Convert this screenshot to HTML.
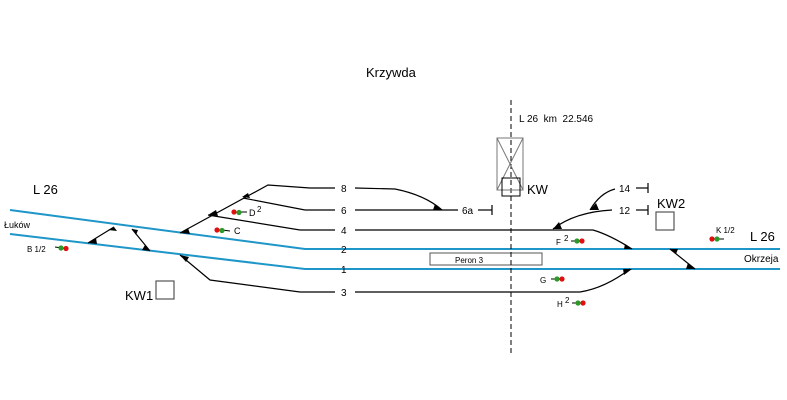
<!DOCTYPE html>
<html><head><style>body{margin:0;background:#fff}svg{display:block}</style></head>
<body>
<svg width="787" height="400" viewBox="0 0 787 400" xmlns="http://www.w3.org/2000/svg" font-family="Liberation Sans, sans-serif">
<rect width="787" height="400" fill="#fff"/>
<!-- blue main tracks -->
<g stroke="#1e96c8" stroke-width="2" fill="none">
<polyline points="10,210 305,249 780,249"/>
<polyline points="10,234 305,269 780,269"/>
</g>
<!-- black tracks -->
<g stroke="#000" stroke-width="1.2" fill="none">
<line x1="88" y1="243" x2="114" y2="227"/>
<line x1="132" y1="229" x2="150" y2="251"/>
<polyline points="180,233 268,185 310,188"/>
<line x1="243" y1="198" x2="305" y2="210"/>
<line x1="208" y1="215" x2="300" y2="230"/>
<path d="M180,255 L210,280 L300,292"/>
<path d="M355,188 L395,189 Q425,195 442,210"/>
<line x1="355" y1="210" x2="458" y2="210"/>
<line x1="478" y1="210" x2="492" y2="210"/><line x1="492" y1="205" x2="492" y2="215"/>
<line x1="355" y1="230" x2="593" y2="230"/>
<path d="M593,230 Q610,235 632,249"/>
<path d="M553,229 Q575,212 612,210"/>
<path d="M590,210 Q600,193 615,189"/>
<line x1="636" y1="188" x2="648" y2="188"/><line x1="648" y1="183" x2="648" y2="193"/>
<line x1="636" y1="210" x2="648" y2="210"/><line x1="648" y1="205" x2="648" y2="215"/>
<line x1="670" y1="249" x2="695" y2="269"/>
<path d="M355,292 L580,292 Q605,288 630,269"/>
<line x1="310" y1="188" x2="335" y2="188"/>
<line x1="305" y1="210" x2="335" y2="210"/>
<line x1="300" y1="230" x2="335" y2="230"/>
<line x1="300" y1="292" x2="335" y2="292"/>
</g>
<!-- frog triangles -->
<g fill="#000">
<polygon points="88,243 96,238 97,244"/>
<polygon points="108,230 114,227 117,231"/>
<polygon points="132,229 138,230 136,235"/>
<polygon points="145,245 150,251 142,250"/>
<polygon points="180,233 188,228 190,234"/>
<polygon points="208,215 216,210 218,216"/>
<polygon points="242,197 248,193 250,198"/>
<polygon points="180,255 189,257 186,262"/>
<polygon points="435,204 442,210 433,210"/>
<polygon points="553,229 559,222 562,229"/>
<polygon points="590,210 596,203 599,210"/>
<polygon points="625,244 632,249 624,249"/>
<polygon points="670,249 678,249 676,254"/>
<polygon points="688,263 695,269 686,269"/>
<polygon points="623,269 632,269 624,275"/>
</g>
<rect x="430" y="253" width="112" height="12" fill="#fff" stroke="#555" stroke-width="1"/>
<!-- center dashed line -->
<line x1="511" y1="100" x2="511" y2="356" stroke="#000" stroke-width="1" stroke-dasharray="5,3"/>
<!-- crossing box -->
<g stroke="#777" stroke-width="1" fill="none">
<rect x="497" y="138" width="26" height="52"/>
<line x1="497" y1="138" x2="523" y2="190"/><line x1="523" y1="138" x2="497" y2="190"/>
</g>
<rect x="502" y="178" width="18" height="18" fill="none" stroke="#000" stroke-width="1"/>
<rect x="156" y="281" width="18" height="18" fill="none" stroke="#555" stroke-width="1.2"/>
<rect x="656" y="212" width="18" height="18" fill="none" stroke="#555" stroke-width="1.2"/>
<!-- signals -->
<g stroke="#000" stroke-width="1">
<line x1="55" y1="247" x2="62" y2="248"/>
<line x1="239" y1="212" x2="247" y2="212"/>
<line x1="222" y1="230" x2="230" y2="231"/>
<line x1="571" y1="241" x2="577" y2="241"/>
<line x1="551" y1="279" x2="557" y2="279"/>
<line x1="572" y1="303" x2="578" y2="303"/>
<line x1="717" y1="239" x2="724" y2="239"/>
</g>
<g>
<circle cx="61" cy="248" r="2.6" fill="#2a9a2a"/><circle cx="66" cy="248.5" r="2.6" fill="#e01010"/>
<circle cx="234" cy="212" r="2.6" fill="#e01010"/><circle cx="239" cy="212.5" r="2.6" fill="#2a9a2a"/>
<circle cx="217" cy="230" r="2.6" fill="#e01010"/><circle cx="222" cy="230.5" r="2.6" fill="#2a9a2a"/>
<circle cx="577" cy="241" r="2.6" fill="#2a9a2a"/><circle cx="582" cy="241" r="2.6" fill="#e01010"/>
<circle cx="557" cy="279" r="2.6" fill="#2a9a2a"/><circle cx="562" cy="279" r="2.6" fill="#e01010"/>
<circle cx="578" cy="303" r="2.6" fill="#2a9a2a"/><circle cx="583" cy="303" r="2.6" fill="#e01010"/>
<circle cx="712" cy="239" r="2.6" fill="#e01010"/><circle cx="717" cy="239" r="2.6" fill="#2a9a2a"/>
</g>
<!-- text -->
<g fill="#000">
<text x="366" y="77" font-size="13">Krzywda</text>
<text x="519" y="122" font-size="10" style="white-space:pre" xml:space="preserve">L 26  km  22.546</text>
<text x="527" y="194" font-size="13">KW</text>
<text x="33" y="194" font-size="13">L 26</text>
<text x="4" y="228" font-size="9">Łuków</text>
<text x="27" y="252" font-size="8">B 1/2</text>
<text x="249" y="216" font-size="9">D</text><text x="257" y="212" font-size="8">2</text>
<text x="234" y="234" font-size="9">C</text>
<text x="341" y="192" font-size="10">8</text>
<text x="341" y="214" font-size="10">6</text>
<text x="341" y="234" font-size="10">4</text>
<text x="341" y="253" font-size="10">2</text>
<text x="341" y="273" font-size="10">1</text>
<text x="341" y="296" font-size="10">3</text>
<text x="462" y="214" font-size="10">6a</text>
<text x="619" y="192" font-size="10">14</text>
<text x="619" y="214" font-size="10">12</text>
<text x="657" y="208" font-size="13">KW2</text>
<text x="125" y="300" font-size="13">KW1</text>
<text x="455" y="263" font-size="8">Peron 3</text>
<text x="556" y="245" font-size="8">F</text><text x="564" y="241" font-size="8">2</text>
<text x="540" y="283" font-size="8">G</text>
<text x="557" y="307" font-size="8">H</text><text x="565" y="303" font-size="8">2</text>
<text x="716" y="233" font-size="8">K 1/2</text>
<text x="750" y="241" font-size="13">L 26</text>
<text x="744" y="262" font-size="10">Okrzeja</text>
</g>
</svg>
</body></html>
